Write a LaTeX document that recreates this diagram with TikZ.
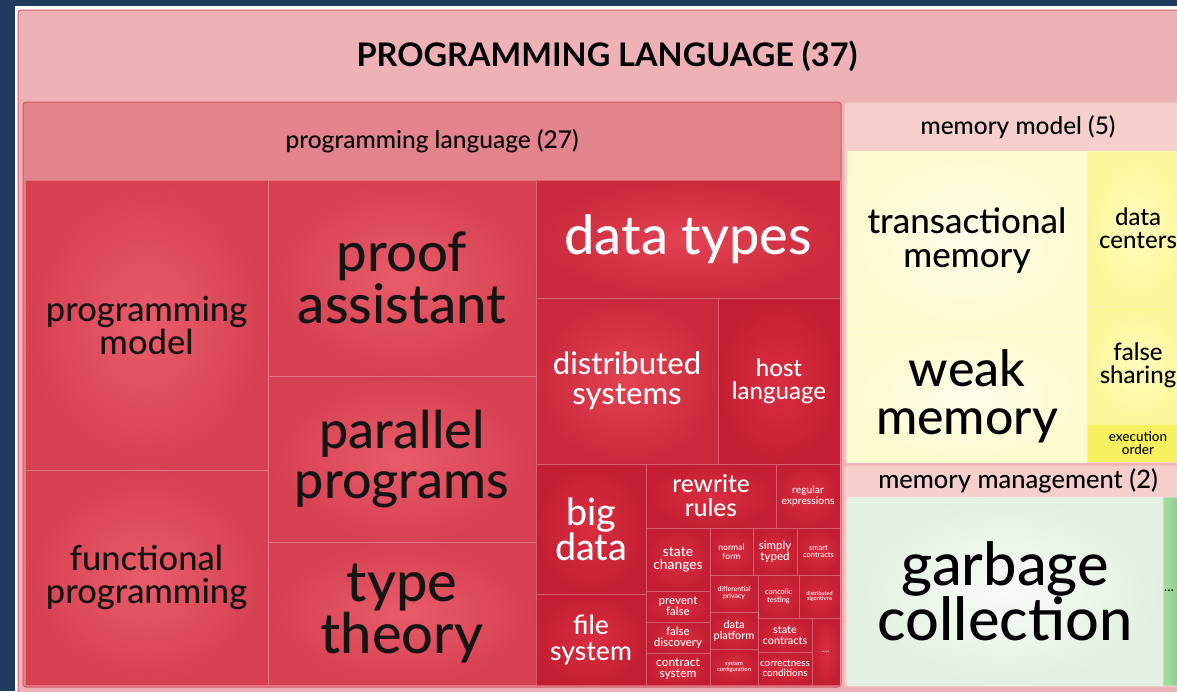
\documentclass[tikz,border=0pt]{standalone}
\usepackage{fontspec}
\IfFontExistsTF{Lato Medium}
  {\setmainfont{Lato Medium}[BoldFont={Lato Bold}]}
  {\setmainfont{Lato}[FakeBold=0.4, BoldFont={Lato Bold}]}
\newcommand\fsz[2]{\fontsize{#1}{#2}\selectfont}
% tmcell{name}{x1}{y1}{x2}{y2}{style}{text}: one treemap cell, corners in px
\newcommand\tmcell[7]{%
  \node[#6, minimum width={#4-#2}, minimum height={#5-#3}] (#1)
    at ({(#2+#4)/2},{(#3+#5)/2}) {#7};}
\definecolor{navy}{HTML}{1D3B5E}
\definecolor{outerpink}{HTML}{EDB1B6}
\definecolor{outerline}{HTML}{D95F6C}
\definecolor{plhead}{HTML}{E3838B}
\definecolor{plline}{HTML}{D45563}
\definecolor{mmhead}{HTML}{F5CFCC}
\definecolor{mmline}{HTML}{EDB7B4}
\definecolor{redAin}{HTML}{E85C6A}
\definecolor{redAout}{HTML}{D64050}
\definecolor{redBin}{HTML}{E24252}
\definecolor{redBout}{HTML}{CB2A3C}
\definecolor{redCin}{HTML}{DA2E40}
\definecolor{redCout}{HTML}{C41E32}
\definecolor{paleYin}{HTML}{FFFFEC}
\definecolor{paleYout}{HTML}{FEFBCE}
\definecolor{midYin}{HTML}{FFFCBE}
\definecolor{midYout}{HTML}{FCF798}
\definecolor{hotYfill}{HTML}{F7F160}
\definecolor{paleGin}{HTML}{F8FCF7}
\definecolor{paleGout}{HTML}{E2F1E0}
\definecolor{greenL}{HTML}{A8DCA4}
\definecolor{greenR}{HTML}{78C876}
\tikzset{
  x=1pt, y=-1pt,
  base/.style={inner sep=0pt, outer sep=0pt, align=center,
    draw=white, draw opacity=0.28, line width=0.6pt},
  redA/.style={base, inner color=redAin, outer color=redAout, text=black!92},
  redB/.style={base, inner color=redBin, outer color=redBout, text=white},
  redC/.style={base, inner color=redCin, outer color=redCout, text=white},
  paleY/.style={base, inner color=paleYin, outer color=paleYout, text=black},
  midY/.style={base, inner color=midYin, outer color=midYout, text=black},
  hotY/.style={base, fill=hotYfill, text=black},
  paleG/.style={base, inner color=paleGin, outer color=paleGout, text=black},
  greencell/.style={base, left color=greenL, right color=greenR, text=black},
  group/.style={rounded corners=3pt, line width=1pt},
  label/.style={inner sep=0pt, text=black},
}
\begin{document}
\begin{tikzpicture}
\useasboundingbox (0,0) rectangle (1177,691);
\clip (0,0) rectangle (1177,691);
\fill[navy] (0,0) rectangle (1177,691);
\fill[white] (14.5,5.5) rectangle (1200,700);

% outer group
\draw[group, fill=outerpink, draw=outerline] (18,10) rectangle (1195,720);
\node[label, font=\bfseries\fsz{32.5}{34}] (title) at (607,56) {PROGRAMMING LANGUAGE (37)};

% programming language (27)
\draw[group, fill=plhead, draw=plline] (23,102) rectangle (841,687);
\node[label, font=\fsz{24.5}{26}] (plt) at (432,141) {programming language (27)};

\tmcell{pm}{25}{180}{268}{470}{redA, font=\fsz{34.5}{33}}{programming\\model}
\tmcell{fp}{25}{470}{268}{685}{redA, font=\fsz{34.5}{33}}{functional\\programming}
\tmcell{pa}{268}{180}{536}{376}{redA, font=\fsz{54.5}{52}}{proof\\assistant}
\tmcell{pp}{268}{376}{536}{542}{redA, font=\fsz{52}{50}}{parallel\\programs}
\tmcell{tt}{268}{542}{536}{685}{redA, font=\fsz{56}{52}}{type\\theory}
\tmcell{dt}{536}{180}{840}{298}{redB, font=\fsz{54}{52}}{data types}
\tmcell{ds}{536}{298}{718}{464}{redB, font=\fsz{31}{30}}{distributed\\systems}
\tmcell{hl}{718}{298}{840}{464}{redC, font=\fsz{24}{23}}{host\\language}
\tmcell{bd}{536}{464}{646}{594}{redC, font=\fsz{37.5}{35}}{big\\data}
\tmcell{fs}{536}{594}{646}{685}{redC, font=\fsz{26.5}{26}}{file\\system}
\tmcell{rr}{646}{464}{776}{528}{redC, font=\fsz{24.5}{24}}{rewrite\\rules}
\tmcell{re}{776}{464}{840}{528}{redC, font=\fsz{10.3}{10.5}}{regular\\expressions}
\tmcell{sc}{646}{528}{710}{591}{redC, font=\fsz{13.8}{13.5}}{state\\changes}
\tmcell{pf}{646}{591}{710}{622}{redC, font=\fsz{11.5}{11}}{prevent\\false}
\tmcell{fd}{646}{622}{710}{653}{redC, font=\fsz{11.5}{11}}{false\\discovery}
\tmcell{cs}{646}{653}{710}{685}{redC, font=\fsz{12}{11.5}}{contract\\system}
\tmcell{nf}{710}{528}{753}{575}{redC, font=\fsz{8.6}{9}}{normal\\form}
\tmcell{st}{753}{528}{797}{575}{redC, font=\fsz{11.5}{11}}{simply\\typed}
\tmcell{smc}{797}{528}{840}{575}{redC, font=\fsz{7.5}{7.5}}{smart\\contracts}
\tmcell{dp}{710}{575}{758}{612}{redC, font=\fsz{6.9}{7}}{differential\\privacy}
\tmcell{ct}{758}{575}{799}{618}{redC, font=\fsz{7.5}{7.5}}{concolic\\testing}
\tmcell{da}{799}{575}{840}{618}{redC, font=\fsz{5.5}{5.6}}{distributed\\algorithms}
\tmcell{dpl}{710}{612}{758}{649}{redC, font=\fsz{10.9}{11}}{data\\platform}
\tmcell{sysc}{710}{649}{758}{685}{redC, font=\fsz{5.8}{5.8}}{system\\configuration}
\tmcell{stc}{758}{618}{812}{652}{redC, font=\fsz{10.9}{11}}{state\\contracts}
\tmcell{cc}{758}{652}{812}{685}{redC, font=\fsz{9.8}{10}}{correctness\\conditions}
\tmcell{more1}{812}{618}{840}{685}{redC, font=\fsz{10}{10}}{\dots}

% memory model (5)
\draw[group, fill=mmhead, draw=mmline] (844,102) rectangle (1192,463);
\node[label, font=\fsz{24.4}{26}] (mmt) at (1018,127) {memory model (5)};
\tmcell{tm}{847}{151}{1087}{331}{paleY, font=\fsz{35}{34}}{transactional\\memory}
\tmcell{wm}{847}{331}{1087}{462}{paleY, font=\fsz{50}{48}}{weak\\memory}
\tmcell{dc}{1087}{151}{1189}{306}{midY, font=\fsz{24}{23}}{data\\centers}
\tmcell{fsh}{1087}{306}{1189}{424}{midY, font=\fsz{24}{23}}{false\\sharing}
\tmcell{eo}{1087}{424}{1189}{462}{hotY, font=\fsz{13.5}{12.5}}{execution\\order}

% memory management (2)
\draw[group, fill=mmhead, draw=mmline] (844,465) rectangle (1192,687);
\node[label, font=\fsz{25.5}{27}] (mgt) at (1018,481) {memory management (2)};
\tmcell{gc}{847}{497}{1163}{685}{paleG, font=\fsz{59.5}{55}}{garbage\\collection}
\tmcell{more2}{1163}{497}{1189}{685}{greencell, font=\fsz{13}{13}}{\hspace*{-14pt}\dots}
\end{tikzpicture}
\end{document}
